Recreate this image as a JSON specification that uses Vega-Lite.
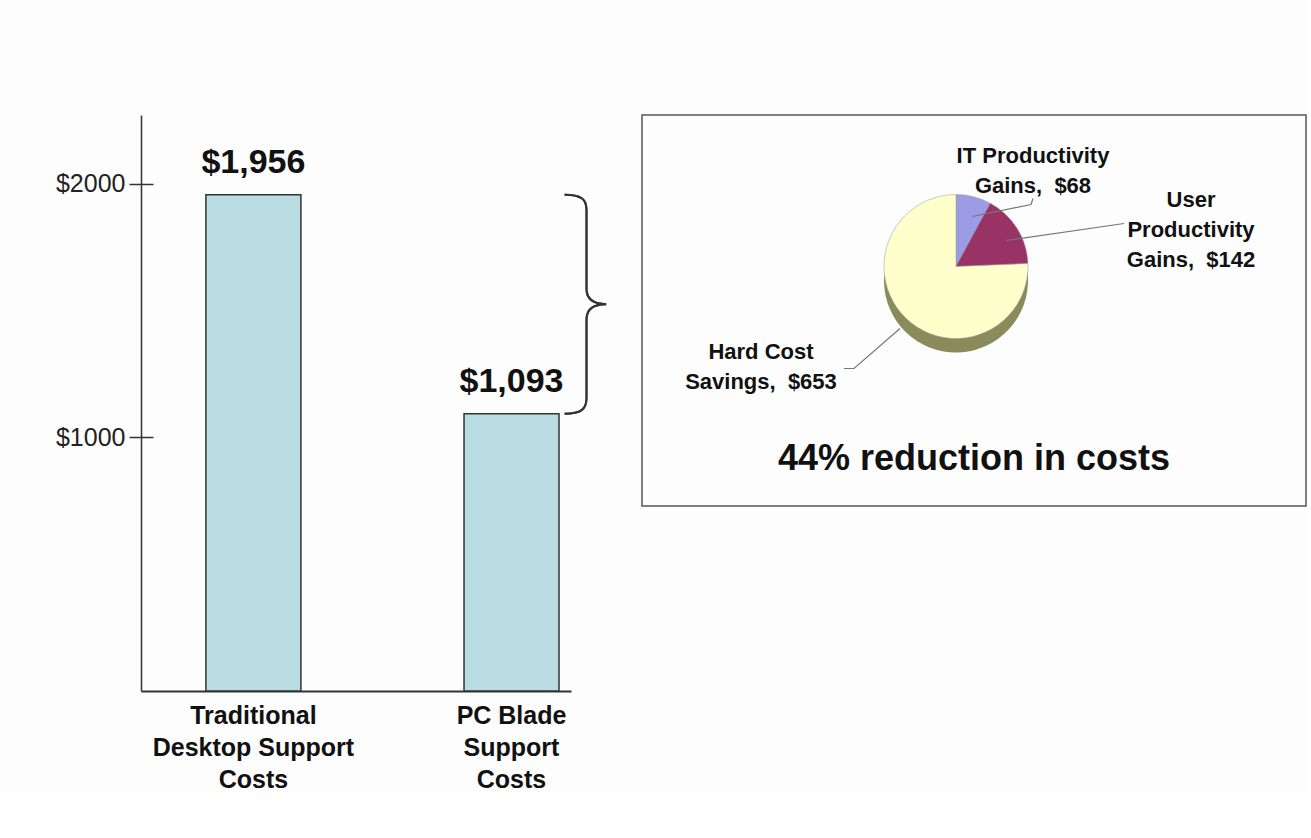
{
  "$schema": "https://vega.github.io/schema/vega-lite/v6.json",
  "background": "#fdfdfd",
  "padding": {"left": 55, "top": 114, "right": 0, "bottom": 0},
  "bounds": "flush",
  "spacing": 71,
  "config": {
    "font": "Liberation Sans",
    "view": {"stroke": null},
    "axis": {"grid": false}
  },
  "hconcat": [
    {
      "width": 430,
      "height": 576,
      "data": {"values": [
        {"category": "Traditional|Desktop Support|Costs", "cost": 1956},
        {"category": "PC Blade|Support|Costs", "cost": 1093}
      ]},
      "encoding": {
        "x": {
          "field": "category", "type": "nominal", "sort": null,
          "scale": {"paddingInner": 0.632, "paddingOuter": 0.149, "align": 0.844},
          "axis": {
            "title": null, "labelAngle": 0, "ticks": false, "labelLimit": 400,
            "labelExpr": "split(datum.label, '|')",
            "labelFont": "Liberation Sans", "labelFontWeight": "bold", "labelFontSize": 25,
            "labelColor": "#111", "labelLineHeight": 32, "labelPadding": 12,
            "domainColor": "#333", "domainWidth": 2
          }
        },
        "y": {
          "field": "cost", "type": "quantitative",
          "scale": {"domain": [0, 2270], "nice": false},
          "axis": {
            "title": null, "values": [1000, 2000], "labelExpr": "'$' + datum.value",
            "labelFontSize": 25, "labelColor": "#222", "labelPadding": 4,
            "tickSize": 12, "tickColor": "#333", "tickWidth": 1.5,
            "domainColor": "#333", "domainWidth": 1.5
          }
        }
      },
      "resolve": {"axis": {"y": "independent"}},
      "layer": [
        {"mark": {"type": "bar", "fill": "#b9dde2", "stroke": "#333", "strokeWidth": 1.5}},
        {
          "mark": {"type": "text", "baseline": "alphabetic", "dy": -22, "fontSize": 34, "fontWeight": "bold", "color": "#111"},
          "encoding": {
            "y": {
              "field": "cost", "type": "quantitative",
              "axis": {"orient": "right", "offset": -430, "title": null, "labels": false, "domain": false,
                "values": [1000, 2000], "tickSize": 12, "tickColor": "#333", "tickWidth": 1.5}
            },
            "text": {"field": "cost", "type": "quantitative", "format": "$,.0f"}
          }
        },
        {
          "mark": {
            "type": "point", "filled": false, "stroke": "#333", "strokeWidth": 2, "opacity": 1,
            "size": 47961, "xOffset": 75,
            "shape": "M -0.2 -1 C -0.05 -1 0 -0.96 0 -0.86 L 0 -0.14 C 0 -0.05 0.06 0 0.18 0 C 0.06 0 0 0.05 0 0.14 L 0 0.86 C 0 0.96 -0.05 1 -0.2 1"
          },
          "encoding": {
            "x": {"datum": "PC Blade|Support|Costs"},
            "y": {"datum": 1524.5, "axis": null}
          }
        }
      ]
    },
    {
      "width": 664,
      "height": 391,
      "view": {"stroke": "#555", "strokeWidth": 1.5, "fill": "#fdfdfd"},
      "data": {"values": [
        {"item": "IT Productivity Gains", "label": "IT Productivity|Gains,\u00a0 $68", "amount": 68, "ord": 1},
        {"item": "User Productivity Gains", "label": "User|Productivity|Gains,\u00a0 $142", "amount": 142, "ord": 2},
        {"item": "Hard Cost Savings", "label": "Hard Cost|Savings,\u00a0 $653", "amount": 653, "ord": 3}
      ]},
      "resolve": {"scale": {"color": "independent"}},
      "layer": [
        {
          "mark": {"type": "arc", "outerRadius": 72, "xOffset": -18, "yOffset": -30},
          "encoding": {
            "theta": {"field": "amount", "type": "quantitative", "stack": true},
            "order": {"field": "ord", "type": "quantitative"},
            "color": {"field": "item", "type": "nominal", "legend": null,
              "scale": {"domain": ["IT Productivity Gains", "User Productivity Gains", "Hard Cost Savings"], "range": ["#6a6aa8", "#5e1f3e", "#8a8a5c"]}}
          }
        },
        {
          "mark": {"type": "arc", "outerRadius": 72, "xOffset": -18, "yOffset": -44, "stroke": "#999", "strokeWidth": 0.5},
          "encoding": {
            "theta": {"field": "amount", "type": "quantitative", "stack": true},
            "order": {"field": "ord", "type": "quantitative"},
            "color": {"field": "item", "type": "nominal", "legend": null,
              "scale": {"domain": ["IT Productivity Gains", "User Productivity Gains", "Hard Cost Savings"], "range": ["#9c9ce6", "#993366", "#ffffcc"]}}
          }
        },
        {
          "data": {"values": [{"note": "leader lines"}]},
          "mark": {
            "type": "point", "filled": false, "stroke": "#777", "strokeWidth": 1.2, "opacity": 1,
            "size": 40000, "xOffset": -18, "yOffset": -44,
            "shape": "M 0.77 -0.68 L 0.75 -0.62 L 0.16 -0.5 M 1.68 -0.43 L 0.5 -0.26 M -0.56 0.62 L -1.02 1.02 L -1.12 1.02"
          }
        },
        {
          "mark": {
            "type": "text", "radius": 0, "fontSize": 22, "fontWeight": "bold", "color": "#111",
            "lineHeight": 30, "lineBreak": "|", "align": "center", "baseline": "middle",
            "xOffset": -18, "yOffset": -44,
            "dx": {"expr": "datum.ord == 1 ? 77 : datum.ord == 2 ? 235 : -195"},
            "dy": {"expr": "datum.ord == 1 ? -111 : datum.ord == 2 ? -67 : 85"}
          },
          "encoding": {
            "theta": {"field": "amount", "type": "quantitative", "stack": true},
            "order": {"field": "ord", "type": "quantitative"},
            "text": {"field": "label", "type": "nominal"}
          }
        },
        {
          "data": {"values": [{"t": "44% reduction in costs"}]},
          "mark": {"type": "text", "fontSize": 36, "fontWeight": "bold", "color": "#111", "align": "center", "baseline": "middle",
            "yOffset": 148},
          "encoding": {"text": {"field": "t", "type": "nominal"}}
        }
      ]
    }
  ]
}
